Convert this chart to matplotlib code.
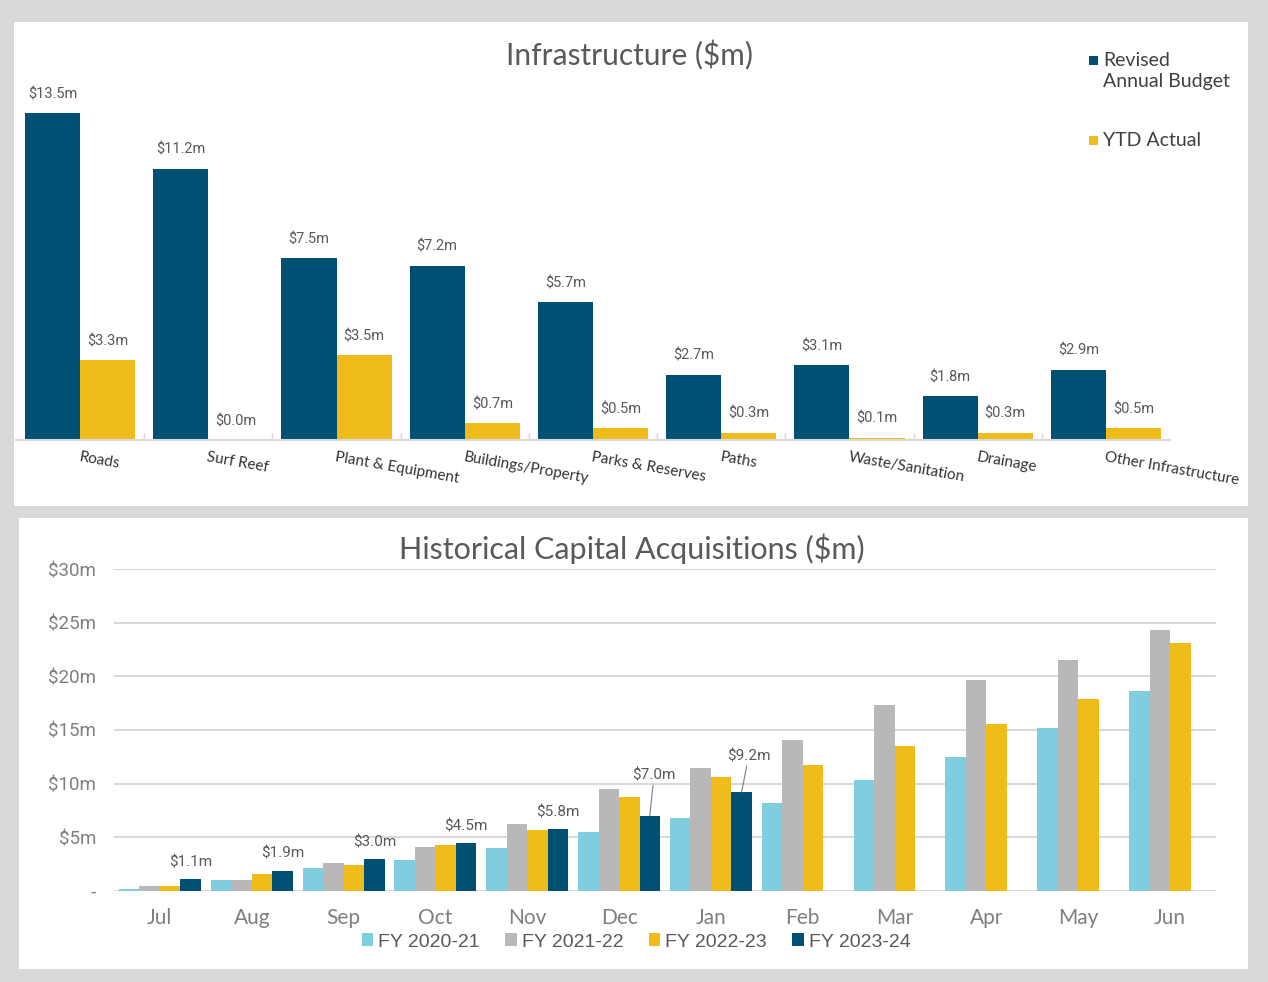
import matplotlib
matplotlib.use('Agg')
import numpy as np
import matplotlib.pyplot as plt
from matplotlib.patches import Rectangle
from matplotlib import font_manager

# 可用字体
def pick_font(names):
    have = {f.name for f in font_manager.fontManager.ttflist}
    for n in names:
        if n in have:
            return n
    return 'DejaVu Sans'

FONT_MAIN = pick_font(['Lato', 'Open Sans', 'DejaVu Sans'])
FONT_NARROW = pick_font(['Liberation Sans Narrow', 'Roboto', 'Liberation Sans'])
FONT_ARIAL = pick_font(['Liberation Sans', 'DejaVu Sans'])
plt.rcParams['font.family'] = FONT_MAIN

# ---- 数据：基础设施 ----
infra_cats = ['Roads', 'Surf Reef', 'Plant & Equipment', 'Buildings/Property',
              'Parks & Reserves', 'Paths', 'Waste/Sanitation', 'Drainage',
              'Other Infrastructure']
budget = [13.5, 11.2, 7.5, 7.2, 5.7, 2.7, 3.1, 1.8, 2.9]
ytd_actual = [3.3, 0.0, 3.5, 0.7, 0.5, 0.3, 0.1, 0.3, 0.5]
infra_series = ['Revised', 'Annual Budget', 'YTD Actual']

# ---- 数据：历史资本购置 ----
months = ['Jul', 'Aug', 'Sep', 'Oct', 'Nov', 'Dec', 'Jan', 'Feb', 'Mar', 'Apr', 'May', 'Jun']
fy_labels = ['FY 2020-21', 'FY 2021-22', 'FY 2022-23', 'FY 2023-24']
fy2021 = [0.2, 1.0, 2.1, 2.9, 4.0, 5.5, 6.8, 8.2, 10.3, 12.5, 15.2, 18.6]
fy2122 = [0.5, 1.0, 2.6, 4.1, 6.2, 9.5, 11.5, 14.1, 17.3, 19.7, 21.5, 24.3]
fy2223 = [0.5, 1.6, 2.4, 4.3, 5.7, 8.8, 10.6, 11.7, 13.5, 15.6, 17.9, 23.1]
fy2324 = [1.1, 1.9, 3.0, 4.5, 5.8, 7.0, 9.2, np.nan, np.nan, np.nan, np.nan, np.nan]

NAVY = '#005074'
YELLOW = '#F0BC1B'
LBLUE = '#80CDE0'
GREY = '#B8B8B8'
TXT = '#595959'
LTXT = '#7F7F7F'
GRID = '#D9D9D9'

W, H = 1268, 982
fig = plt.figure(figsize=(W / 100, H / 100), dpi=100, facecolor='#D9D9D9')

def box(x0, y0, x1, y1):
    # 像素 -> figure 坐标 (left, bottom, width, height)
    return [x0 / W, 1 - y1 / H, (x1 - x0) / W, (y1 - y0) / H]

# 白色面板
for (x0, y0, x1, y1) in [(14, 22, 1248, 506), (19, 518, 1248, 969)]:
    l, b, w, h = box(x0, y0, x1, y1)
    fig.add_artist(Rectangle((l, b), w, h, transform=fig.transFigure,
                             facecolor='white', edgecolor='none', zorder=0))

# ================= 上图 =================
ax1 = fig.add_axes(box(16, 80, 1170, 440))
ax1.set_facecolor('none')
x = np.arange(len(infra_cats))
bw = 0.43
b1 = ax1.bar(x - bw / 2, budget, bw, color=NAVY, zorder=2)
b2 = ax1.bar(x + bw / 2, ytd_actual, bw, color=YELLOW, zorder=2)
for bars, vals in [(b1, budget), (b2, ytd_actual)]:
    for r, v in zip(bars, vals):
        ax1.annotate(f'${v:.1f}m', (r.get_x() + r.get_width() / 2, r.get_height()),
                     xytext=(0, 13.5), textcoords='offset points', ha='center', va='center',
                     fontsize=10.5, color=TXT, family=FONT_NARROW)
ax1.set_xlim(-0.5, len(infra_cats) - 0.5)
ax1.set_ylim(0, 14.86)
ax1.set_yticks([])
for s in ['top', 'right', 'left']:
    ax1.spines[s].set_visible(False)
ax1.spines['bottom'].set_color(GRID)
ax1.spines['bottom'].set_linewidth(1.5)
ax1.set_xticks(x)
ax1.set_xticklabels(infra_cats, rotation=-10, ha='left', va='top',
                    rotation_mode='anchor', fontsize=11, color='#333333')
ax1.tick_params(axis='x', which='major', length=0, pad=7)
ax1.set_xticks(np.arange(1, len(infra_cats)) - 0.5, minor=True)
ax1.tick_params(axis='x', which='minor', length=5, color=GRID, width=1, direction='in')
fig.text(630 / W, 1 - 55 / H, 'Infrastructure ($m)', ha='center', va='center',
         fontsize=21.5, color=TXT)

# 图例（手动排布，第一项为两行文字）
for (sq_y, col) in [(60, NAVY), (141, YELLOW)]:
    l, b, w, h = box(1089, sq_y - 4.5, 1098, sq_y + 4.5)
    fig.add_artist(Rectangle((l, b), w, h, transform=fig.transFigure,
                             facecolor=col, edgecolor='none'))
for (ty, lab) in [(60, infra_series[0]), (82, infra_series[1]), (141, infra_series[2])]:
    fig.text(1103 / W, 1 - ty / H, lab, ha='left', va='center', fontsize=14,
             color='#404040')

# ================= 下图 =================
ax2 = fig.add_axes(box(114, 569, 1216, 891))
ax2.set_facecolor('none')
xm = np.arange(len(months))
w2 = 0.223
series = [fy2021, fy2122, fy2223, fy2324]
colors = [LBLUE, GREY, YELLOW, NAVY]
for i, (vals, c, lab) in enumerate(zip(series, colors, fy_labels)):
    bars = ax2.bar(xm + (i - 1.5) * w2, vals, w2, color=c, label=lab, zorder=2)
    if i == 3:
        navy_bars = bars
# 当年数据标签
label_offsets = {5: (3, 29), 6: (5, 26)}
for j, (r, v) in enumerate(zip(navy_bars, fy2324)):
    if np.isnan(v):
        continue
    cx = r.get_x() + r.get_width() / 2
    if j in label_offsets:
        ax2.annotate(f'${v:.1f}m', (cx, v), xytext=label_offsets[j], textcoords='offset points',
                     ha='center', va='center', fontsize=11, color=TXT, family=FONT_NARROW,
                     arrowprops=dict(arrowstyle='-', color=LTXT, lw=0.8, shrinkA=0, shrinkB=0))
    else:
        ax2.annotate(f'${v:.1f}m', (cx, v), xytext=(0, 12), textcoords='offset points',
                     ha='center', va='center', fontsize=11, color=TXT, family=FONT_NARROW)
ax2.set_xlim(-0.5, len(months) - 0.5)
ax2.set_ylim(0, 30)
yt = np.arange(0, 31, 5)
ax2.set_yticks(yt)
ax2.set_yticklabels(['-'] + [f'${v}m' for v in yt[1:]], fontsize=13.5, color=LTXT,
                    family=FONT_NARROW)
ax2.tick_params(axis='y', length=0, pad=13)
ax2.grid(axis='y', color=GRID, lw=1.5, zorder=0)
ax2.set_axisbelow(True)
for s in ['top', 'right', 'left', 'bottom']:
    ax2.spines[s].set_visible(False)
ax2.set_xticks(xm)
ax2.set_xticklabels(months, fontsize=15, color=LTXT)
ax2.tick_params(axis='x', length=0, pad=12)
fig.text(632 / W, 1 - 549 / H, 'Historical Capital Acquisitions ($m)', ha='center', va='center',
         fontsize=22, color=TXT)
leg2 = fig.legend(*ax2.get_legend_handles_labels(), loc='center', ncol=4,
                  bbox_to_anchor=(636 / W, 1 - 942 / H), frameon=False,
                  prop={'family': FONT_ARIAL, 'size': 14},
                  handlelength=0.6, handleheight=0.6, handletextpad=0.25,
                  columnspacing=1.3, borderpad=0)
for t in leg2.get_texts():
    t.set_color(TXT)

fig.savefig('out.png', dpi=100, facecolor=fig.get_facecolor())
